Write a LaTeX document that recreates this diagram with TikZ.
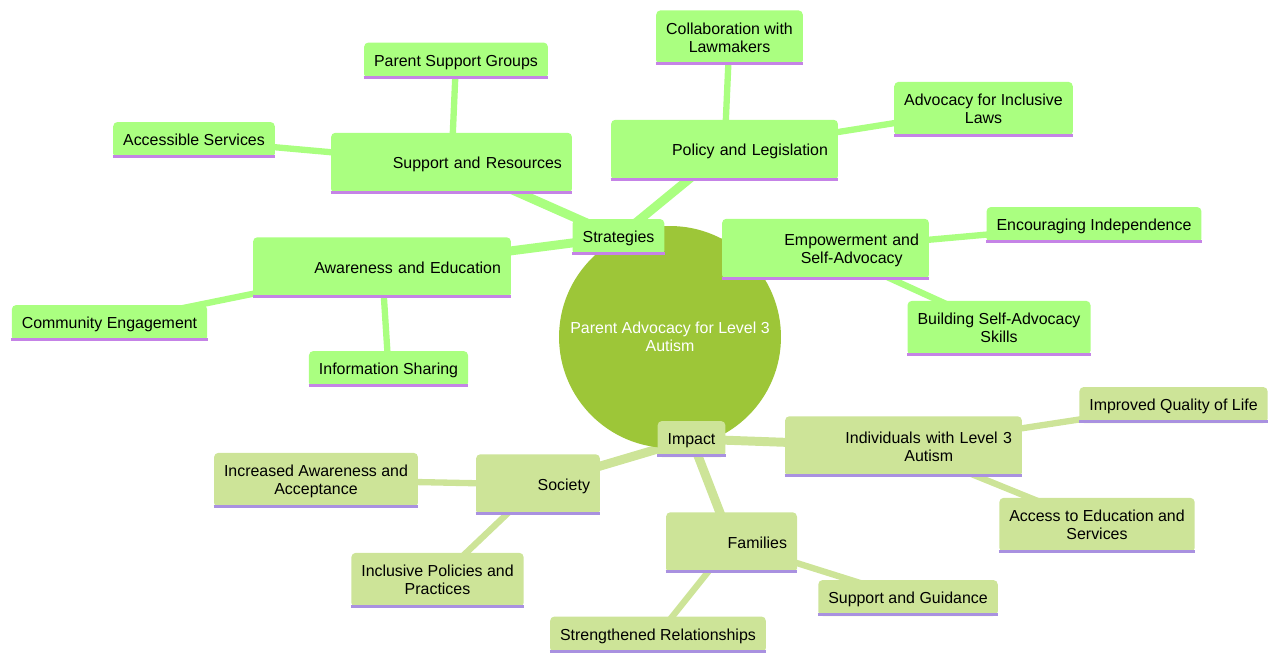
\documentclass[tikz,border=0pt]{standalone}
\usepackage{fontspec}
\setmainfont{Liberation Sans}
\usetikzlibrary{backgrounds}
\definecolor{rootfill}{HTML}{9DC638}
\definecolor{stratfill}{HTML}{AAFF80}
\definecolor{stratline}{HTML}{C583E6}
\definecolor{impfill}{HTML}{CDE498}
\definecolor{impline}{HTML}{A991E0}
\newcommand*{\Two}[2]{\raisebox{-1.3pt}[\dimexpr\height+0.8pt\relax][\dimexpr\depth+0.8pt\relax]{\begin{tabular}{@{}c@{}}#1\\#2\end{tabular}}}
\tikzset{
  mnode/.style={rectangle, rounded corners=2.5pt, inner xsep=0.2cm, inner ysep=0.157cm, minimum height=0.72cm, font=\fontsize{9.07}{10.2}\selectfont, execute at begin node={\rule[-2.5pt]{0pt}{11.5pt}}},
  leafS/.style={mnode, fill=stratfill},
  leafI/.style={mnode, fill=impfill},
  wide/.style={text width=#1, align=right, minimum height=1.21cm},
}
\begin{document}
\begin{tikzpicture}[x=0.02cm, y=-0.02cm]
            \useasboundingbox (0,0) rectangle (1280,662);
            \node[circle, fill=rootfill, minimum size=4.44cm, text=white, align=center, font=\fontsize{9.07}{10.2}\selectfont] (root) at (670,337) {Parent Advocacy for Level 3\\Autism};
            \node[leafS] (strat) at (618.5,237) {Strategies};
            \node[leafS, wide=4.42cm] (sup) at (451.5,163) {Support and Resources};
            \node[leafS] (psg) at (456,60.5) {Parent Support Groups};
            \node[leafS] (acc) at (194,140) {Accessible Services};
            \node[leafS, wide=4.14cm] (pol) at (724.5,150) {Policy and Legislation};
            \node[leafS] (collab) at (729.5,37.5) {\Two{Collaboration with}{Lawmakers}};
            \node[leafS] (advlaw) at (983.5,109) {\Two{Advocacy for Inclusive}{Laws}};
            \node[leafS, wide=3.74cm] (emp) at (825.5,249) {\Two{Empowerment and}{Self-Advocacy}};
            \node[leafS] (indep) at (1094,225) {Encouraging Independence};
            \node[leafS] (bsa) at (999,328) {\Two{Building Self-Advocacy}{Skills}};
            \node[leafS, wide=4.76cm] (awa) at (382,267.5) {Awareness and Education};
            \node[leafS] (comm) at (109.5,323) {Community Engagement};
            \node[leafS] (info) at (388.5,369) {Information Sharing};
            \node[leafI] (imp) at (691.5,439) {Impact};
            \node[leafI, wide=4.34cm] (ind) at (903.5,446.5) {\Two{Individuals with Level 3}{Autism}};
            \node[leafI] (iql) at (1173.5,405) {Improved Quality of Life};
            \node[leafI] (aes) at (1097,525) {\Two{Access to Education and}{Services}};
            \node[leafI, wide=2.08cm] (soc) at (538,484.5) {Society};
            \node[leafI] (iaa) at (316,480) {\Two{Increased Awareness and}{Acceptance}};
            \node[leafI] (ipp) at (437.5,580) {\Two{Inclusive Policies and}{Practices}};
            \node[leafI, wide=2.22cm] (fam) at (731.5,542.5) {Families};
            \node[leafI] (sg) at (908,598) {Support and Guidance};
            \node[leafI] (sr) at (658,634.5) {Strengthened Relationships};
            \foreach \n in {strat,sup,psg,acc,pol,collab,advlaw,emp,indep,bsa,awa,comm,info}{
              \draw[stratline, line width=1.7pt] ([yshift=0.85pt]\n.south west) -- ([yshift=0.85pt]\n.south east);
            }
            \foreach \n in {imp,ind,iql,aes,soc,iaa,ipp,fam,sg,sr}{
              \draw[impline, line width=1.7pt] ([yshift=0.85pt]\n.south west) -- ([yshift=0.85pt]\n.south east);
            }
            \begin{scope}[on background layer]
              \foreach \a/\b in {strat/sup,strat/pol,strat/emp,strat/awa}
                \draw[stratfill, line width=5.1pt] (\a.center) -- (\b.center);
              \foreach \a/\b in {sup/psg,sup/acc,pol/collab,pol/advlaw,emp/indep,emp/bsa,awa/comm,awa/info}
                \draw[stratfill, line width=3.6pt] (\a.center) -- (\b.center);
              \foreach \a/\b in {imp/ind,imp/soc,imp/fam}
                \draw[impfill, line width=5.1pt] (\a.center) -- (\b.center);
              \foreach \a/\b in {ind/iql,ind/aes,soc/iaa,soc/ipp,fam/sg,fam/sr}
                \draw[impfill, line width=3.6pt] (\a.center) -- (\b.center);
            \end{scope}
          \end{tikzpicture}
\end{document}
